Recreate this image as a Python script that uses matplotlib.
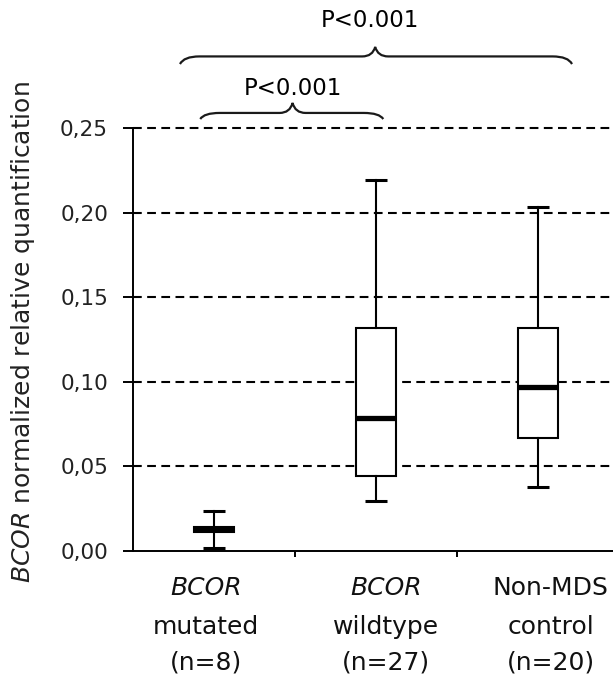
import matplotlib
matplotlib.use("Agg")
import matplotlib.pyplot as plt
from matplotlib.path import Path
from matplotlib.patches import PathPatch

# box statistics
groups = ["mutated", "wildtype", "control"]
line1 = ["BCOR", "BCOR", "Non-MDS"]
line2 = ["mutated", "wildtype", "control"]
line3 = ["(n=8)", "(n=27)", "(n=20)"]
italic_first = [True, True, False]

whislo = [0.0020, 0.0298, 0.0377]
q1 = [0.0115, 0.0444, 0.0667]
med = [0.0128, 0.0787, 0.0970]
q3 = [0.0140, 0.1317, 0.1317]
whishi = [0.0237, 0.2190, 0.2033]

yticks = [0.00, 0.05, 0.10, 0.15, 0.20, 0.25]
ytick_labels = ["0,00", "0,05", "0,10", "0,15", "0,20", "0,25"]

p_small = "P<0.001"
p_big = "P<0.001"


def brace(ax, x0, x1, xp, y_end, y_line, y_peak, dx=0.12, dp=0.08):
    # curly brace drawn with quadratic curves
    verts = [
        (x0, y_end),
        (x0 + dx * 0.2, y_line), (x0 + dx, y_line),
        (xp - dp, y_line),
        (xp - dp * 0.2, y_line), (xp, y_peak),
        (xp + dp * 0.2, y_line), (xp + dp, y_line),
        (x1 - dx, y_line),
        (x1 - dx * 0.2, y_line), (x1, y_end),
    ]
    codes = [Path.MOVETO,
             Path.CURVE3, Path.CURVE3,
             Path.LINETO,
             Path.CURVE3, Path.CURVE3,
             Path.CURVE3, Path.CURVE3,
             Path.LINETO,
             Path.CURVE3, Path.CURVE3]
    ax.add_patch(PathPatch(Path(verts, codes), fill=False, lw=1.6,
                           edgecolor="#1a1a1a", clip_on=False))


fig = plt.figure(figsize=(6.13, 6.79), dpi=100)
ax = fig.add_axes([133 / 613, 128 / 679, 486 / 613, 423 / 679])

stats = []
for i in range(len(groups)):
    stats.append({"label": groups[i], "whislo": whislo[i], "q1": q1[i],
                  "med": med[i], "q3": q3[i], "whishi": whishi[i], "fliers": []})

ax.bxp(stats, positions=[1, 2, 3], widths=0.25, capwidths=0.13,
       showfliers=False, patch_artist=True,
       boxprops=dict(facecolor="white", edgecolor="black", linewidth=1.5),
       medianprops=dict(color="black", linewidth=3.8, solid_capstyle="butt"),
       whiskerprops=dict(color="black", linewidth=1.5),
       capprops=dict(color="black", linewidth=2.2, solid_capstyle="butt"),
       zorder=3)

ax.set_xlim(0.5, 3.5)
ax.set_ylim(0, 0.25)
ax.set_yticks(yticks)
ax.set_yticklabels(ytick_labels, fontsize=15.5, color="#222222")
ax.tick_params(axis="y", direction="out", length=7, width=1.4, pad=11)

ax.set_xticks([1.5, 2.5])
ax.set_xticklabels([])
ax.tick_params(axis="x", direction="out", length=4, width=1.4)

for y in yticks[1:]:
    ax.axhline(y, color="black", lw=1.5, ls=(0, (4.2, 2.6)), zorder=1, clip_on=False)

for s in ["top", "right"]:
    ax.spines[s].set_visible(False)
ax.spines["left"].set_linewidth(1.4)
ax.spines["bottom"].set_linewidth(1.4)

# category labels, three lines each (small horizontal nudges as in the source)
nudge = [-6, 7, 9]
for i in range(len(groups)):
    x = i + 1
    style = "italic" if italic_first[i] else "normal"
    for txt, off, st in [(line1[i], -26.6, style), (line2[i], -54.7, "normal"),
                         (line3[i], -80.6, "normal")]:
        ax.annotate(txt, xy=(x, 0), xycoords=("data", "axes fraction"),
                    xytext=(nudge[i], off), textcoords="offset points",
                    ha="center", va="center", fontsize=18, fontstyle=st,
                    color="#111111", annotation_clip=False)

ax.set_ylabel(r"$\it{BCOR}$ normalized relative quantification", fontsize=18,
              color="#222222")
ax.yaxis.set_label_coords(-(133 - 37) / 486, (551 - 332) / 423)

# significance braces
brace(ax, 0.915, 2.045, 1.485, 0.2553, 0.2589, 0.2648)
ax.text(1.49, 0.2736, p_small, ha="center", va="center", fontsize=16.5,
        clip_on=False)
brace(ax, 0.79, 3.21, 1.995, 0.2878, 0.2923, 0.2979)
ax.text(1.96, 0.3138, p_big, ha="center", va="center", fontsize=16.5,
        clip_on=False)

fig.savefig("out.png", dpi=100)
